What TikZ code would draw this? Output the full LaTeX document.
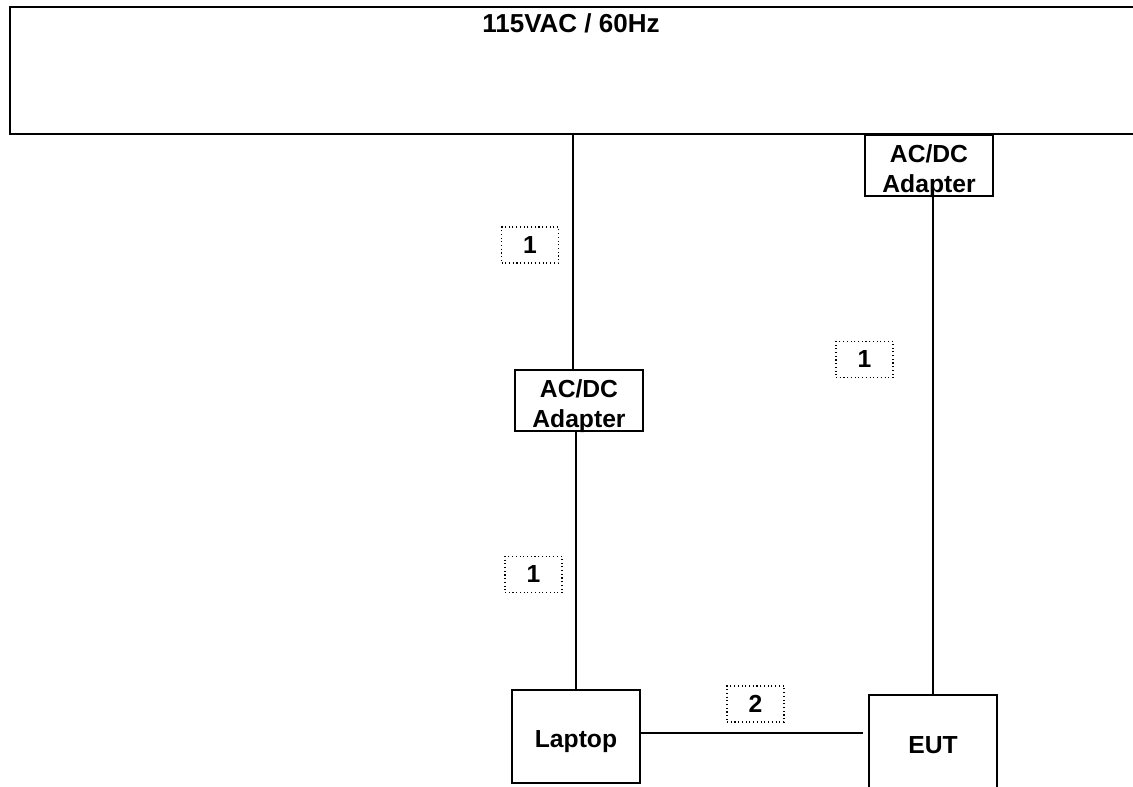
\documentclass[tikz,border=0pt]{standalone}
\usepackage{fontspec}
\setmainfont{Liberation Sans}
\begin{document}
\begin{tikzpicture}[x=0.75pt,y=-0.75pt,
  lbl/.style={font=\bfseries\fontsize{18.5}{22.5}\selectfont, inner sep=0pt, align=center},
  box/.style={draw, line width=1.1pt, fill=white, inner sep=0pt},
  adapter/.style={box, minimum width=96pt, minimum height=45.75pt},
  wire/.style={line width=1.1pt},
  tag/.style={draw, dotted, line width=0.8pt, minimum width=42.75pt, minimum height=27pt, inner sep=0pt, lbl}]
\useasboundingbox (0,0) rectangle (1133,787);
% mains strip
\node[box, line width=1.5pt, minimum width=849pt, minimum height=95.25pt, anchor=north west] (mains) at (9,6) {};
\node[lbl, font=\bfseries\fontsize{19.5}{22}\selectfont, anchor=base] (mainst) at (571,33) {115VAC / 60Hz};
% adapters
\node[adapter] (ad1) at (579,400.5) {};
\node[lbl] (ad1t) at (579,406.5) {AC/DC\\Adapter};
\node[adapter] (ad2) at (929,165.5) {};
\node[lbl] (ad2t) at (929,171) {AC/DC\\Adapter};
% equipment
\node[box, minimum width=96pt, minimum height=69.75pt, lbl, text height=17.2pt, text depth=0pt] (laptop) at (576,736.5) {Laptop};
\node[box, minimum width=96pt, minimum height=78.75pt, lbl, text height=8.3pt, text depth=0pt] (eut) at (933,747.5) {EUT};
% cables
\draw[wire] ([xshift=-4.5pt]ad1.north) -- ([xshift=-4.5pt]ad1.north |- mains.south);
\draw[wire] (laptop.north) -- (laptop.north |- ad1.south);
\draw[wire] (eut.north) -- (eut.north |- ad2.south);
\coordinate (linkend) at (863,733);
\draw[wire] (laptop.east |- linkend) -- (linkend);
% cable tags
\node[tag] (t1) at (530,245) {1};
\node[tag] (t2) at (533.5,574.5) {1};
\node[tag] (t3) at (864.5,359.5) {1};
\node[tag] (t4) at (755.5,704) {2};
\end{tikzpicture}
\end{document}
